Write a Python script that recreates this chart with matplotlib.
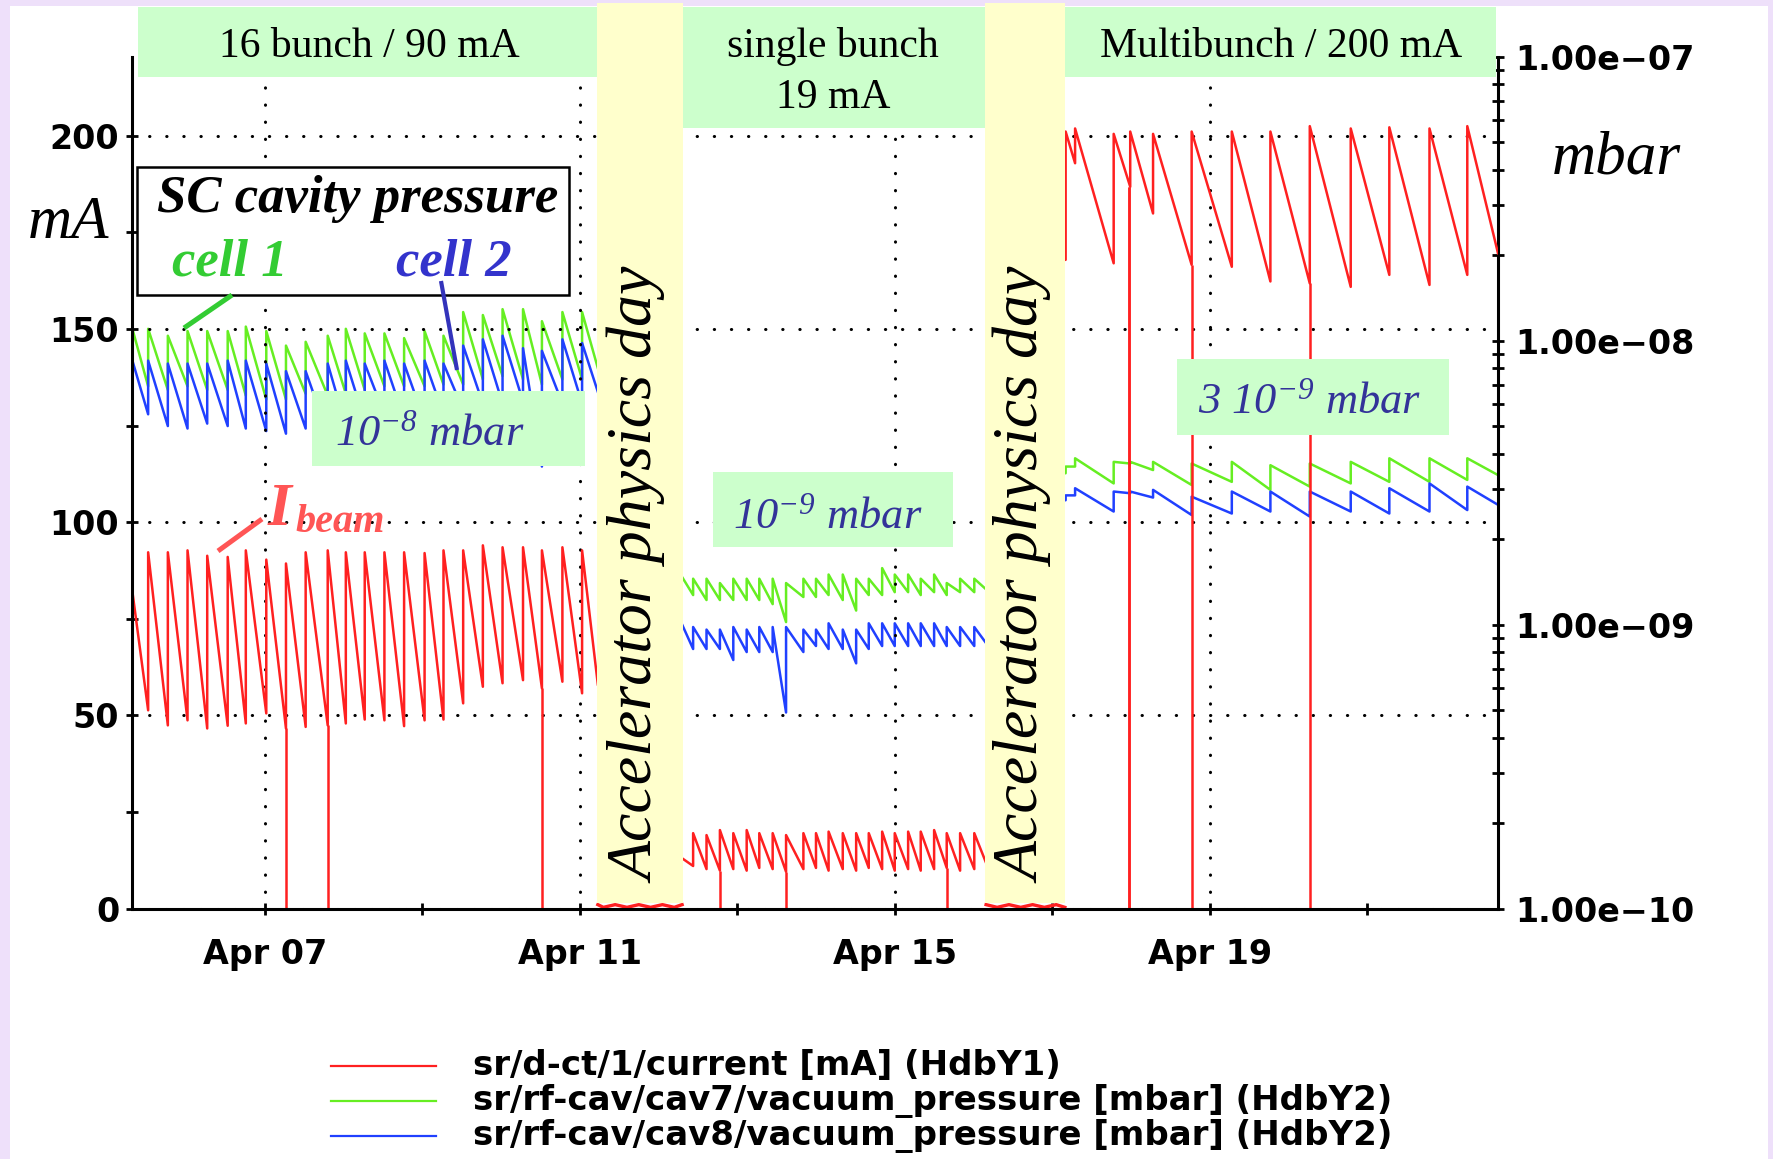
import matplotlib
matplotlib.use("Agg")
import matplotlib.pyplot as plt
from matplotlib.patches import Rectangle
from matplotlib.ticker import FixedLocator, NullFormatter

plt.rcParams['mathtext.fontset'] = 'custom'
plt.rcParams['mathtext.rm'] = 'Liberation Serif:italic'
plt.rcParams['mathtext.it'] = 'Liberation Serif:italic'

# ---- data: x in days of April, current in mA, pressure in 1e-9 mbar ----
# 16 bunch / 90 mA
seg1_span = [5.32, 11.23]
seg1_refill = [5.52, 5.77, 6.02, 6.27, 6.53, 6.76, 7.02, 7.27, 7.52, 7.80, 8.03, 8.27,
               8.52, 8.77, 9.03, 9.27, 9.52, 9.77, 10.02, 10.28, 10.52, 10.78, 11.03]
seg1_cur_peak = [92.2, 92.2, 92.7, 91.3, 91.0, 92.7, 90.3, 89.3, 92.2, 92.7, 92.2, 92.2,
                 92.2, 92.2, 92.0, 92.7, 92.7, 94.0, 93.5, 93.5, 92.7, 93.5, 92.7]
seg1_cur_low = [51.3, 47.4, 48.7, 46.6, 47.3, 47.9, 50.5, 46.6, 47.0, 47.4, 47.9, 48.9,
                48.7, 47.2, 48.7, 48.9, 53.1, 57.4, 58.3, 59.1, 57.0, 58.7, 55.7]
seg1_cur_ends = [82.0, 58.0]
seg1_cav7_peak = [11.0, 10.4, 10.8, 10.8, 10.8, 11.2, 10.8, 9.6, 9.9, 10.4, 11.0, 10.6,
                  10.6, 10.2, 10.8, 10.4, 12.6, 12.3, 12.9, 12.9, 11.7, 12.6, 12.6]
seg1_cav7_low = [6.9, 6.7, 6.9, 6.7, 6.7, 6.4, 6.2, 6.2, 6.5, 6.4, 6.5, 6.7,
                 6.9, 6.9, 6.9, 7.0, 7.0, 7.3, 7.5, 7.3, 7.0, 7.3, 7.3]
seg1_cav7_ends = [11.0, 8.0]
seg1_cav8_peak = [8.5, 8.3, 8.3, 8.3, 8.5, 8.5, 8.3, 7.8, 7.8, 8.3, 8.5, 8.3,
                  8.5, 8.3, 8.5, 8.3, 9.6, 10.1, 10.4, 9.4, 9.2, 10.1, 9.8]
seg1_cav8_low = [5.5, 5.0, 4.9, 5.1, 5.0, 4.9, 4.8, 4.7, 4.9, 4.7, 5.0, 5.2,
                 5.5, 5.3, 5.2, 5.5, 5.7, 6.0, 6.0, 6.1, 3.6, 6.0, 6.0]
seg1_cav8_ends = [8.5, 6.6]

# single bunch / 19 mA
seg2_span = [12.30, 16.16]
seg2_refill = [12.44, 12.61, 12.78, 12.95, 13.12, 13.28, 13.45, 13.62, 13.84, 14.00, 14.16,
               14.34, 14.51, 14.67, 14.84, 15.00, 15.17, 15.33, 15.50, 15.66, 15.83, 16.01]
seg2_cur_peak = [19.5, 19.0, 20.3, 19.5, 20.3, 19.5, 19.5, 19.0, 19.5, 19.5, 19.9,
                 19.5, 19.5, 19.5, 19.9, 19.5, 19.9, 19.9, 20.3, 19.5, 19.5, 19.5]
seg2_cur_low = [11.0, 10.2, 9.8, 10.2, 9.8, 10.5, 10.2, 9.5, 10.2, 10.5, 9.8,
                10.2, 9.8, 10.5, 10.2, 9.8, 10.2, 9.8, 10.2, 10.5, 9.8, 10.2]
seg2_cur_ends = [13.0, 11.8]
seg2_cav7_peak = [1.45, 1.45, 1.40, 1.45, 1.45, 1.45, 1.45, 1.40, 1.45, 1.45, 1.50,
                  1.50, 1.45, 1.45, 1.58, 1.50, 1.50, 1.45, 1.50, 1.40, 1.45, 1.45]
seg2_cav7_low = [1.27, 1.22, 1.22, 1.22, 1.22, 1.22, 1.18, 1.02, 1.25, 1.25, 1.27,
                 1.22, 1.12, 1.27, 1.27, 1.30, 1.30, 1.27, 1.30, 1.27, 1.30, 1.30]
seg2_cav7_ends = [1.47, 1.33]
seg2_cav8_peak = [0.98, 0.96, 0.96, 0.98, 0.96, 0.98, 0.98, 0.98, 0.96, 0.96, 1.01,
                  0.96, 0.96, 1.01, 1.01, 1.01, 1.01, 1.01, 1.01, 0.98, 0.98, 0.98]
seg2_cav8_low = [0.82, 0.82, 0.82, 0.75, 0.80, 0.80, 0.80, 0.49, 0.80, 0.84, 0.82,
                 0.82, 0.73, 0.82, 0.84, 0.84, 0.84, 0.84, 0.84, 0.84, 0.84, 0.84]
seg2_cav8_ends = [1.00, 0.86]

# multibunch / 200 mA
seg3_span = [17.16, 22.66]
seg3_refill = [17.17, 17.29, 17.78, 17.99, 18.28, 18.77, 19.28, 19.77, 20.27, 20.79,
               21.28, 21.79, 22.27]
seg3_cur_peak = [201.1, 201.9, 200.5, 201.1, 200.5, 201.1, 201.1, 201.1, 202.5, 201.9,
                 202.2, 201.9, 202.5]
seg3_cur_low = [167.9, 192.9, 167.0, 186.8, 179.9, 166.6, 166.1, 162.3, 161.8, 160.9,
                164.0, 161.4, 164.0]
seg3_cur_ends = [167.9, 169.6]
seg3_cav7_peak = [3.60, 3.85, 3.74, 3.74, 3.74, 3.69, 3.74, 3.64, 3.69, 3.74, 3.85, 3.85, 3.85]
seg3_cav7_low = [3.41, 3.60, 3.14, 3.69, 3.50, 3.10, 3.18, 2.98, 3.06, 3.14, 3.18, 3.18, 3.23]
seg3_cav7_ends = [3.41, 3.36]
seg3_cav8_peak = [2.85, 3.02, 2.94, 2.94, 2.98, 2.82, 2.94, 2.94, 2.94, 2.94, 3.02, 3.14, 3.06]
seg3_cav8_low = [2.74, 2.85, 2.50, 2.90, 2.80, 2.43, 2.46, 2.50, 2.40, 2.50, 2.46, 2.50, 2.53]
seg3_cav8_ends = [2.74, 2.64]

# beam losses (current drops to zero)
loss_days = [7.27, 7.80, 10.52, 12.78, 13.62, 15.66, 17.97, 17.98, 18.77, 20.27]
loss_top = [46.6, 47.4, 57.0, 9.8, 9.5, 10.5, 186.8, 186.8, 166.6, 161.8]

# accelerator physics days (current near zero)
apd1_days = [11.23, 11.30, 11.45, 11.60, 11.75, 11.90, 12.05, 12.20, 12.30]
apd1_cur = [1.0, 0.3, 1.0, 0.3, 1.0, 0.3, 1.0, 0.3, 1.0]
apd2_days = [16.16, 16.30, 16.45, 16.60, 16.75, 16.90, 17.05, 17.16]
apd2_cur = [1.0, 0.3, 1.0, 0.3, 1.0, 0.3, 1.0, 0.3]

xtick_days = [7, 11, 15, 19]
xtick_labels = ['Apr 07', 'Apr 11', 'Apr 15', 'Apr 19']
xminor_days = [9, 13, 17, 21]
ytick_ma = [0, 50, 100, 150, 200]
yminor_ma = [25, 75, 125, 175]
ptick = [1e-10, 1e-9, 1e-8, 1e-7]
ptick_labels = ['1.00e\u221210', '1.00e\u221209', '1.00e\u221208', '1.00e\u221207']

legend_labels = ['sr/d-ct/1/current [mA] (HdbY1)',
                 'sr/rf-cav/cav7/vacuum_pressure [mbar] (HdbY2)',
                 'sr/rf-cav/cav8/vacuum_pressure [mbar] (HdbY2)']

RED, GREEN, BLUE = '#FF2020', '#66EE22', '#2040FF'
BOXG, BANDY, NAVY = '#CCFFCC', '#FFFFCC', '#333399'
SERIF = 'Liberation Serif'
LW = 1.8


def sawtooth(span, refill, peak, low, ends, scale=1.0):
    xs, ys = [span[0]], [ends[0] * scale]
    for t, lo, hi in zip(refill, low, peak):
        xs += [t, t]
        ys += [lo * scale, hi * scale]
    xs.append(span[1])
    ys.append(ends[1] * scale)
    return xs, ys


W, H = 1774, 1159
fig = plt.figure(figsize=(W / 100, H / 100), dpi=100, facecolor='#EEE0FA')


def px(x0, y0, x1, y1):
    return [x0 / W, 1 - y1 / H, (x1 - x0) / W, (y1 - y0) / H]


# background panel
bg = fig.add_axes([0, 0, 1, 1], zorder=0)
bg.set_xlim(0, W)
bg.set_ylim(H, 0)
bg.axis('off')
bg.add_patch(Rectangle((10, 6), W - 16, H - 6, color='white', lw=0))

# main axes: current (left) and pressure (right, log)
axc = fig.add_axes(px(132.4, 56.6, 1498, 908.5))
axp = axc.twinx()
axc.set_zorder(2)
axp.set_zorder(1)
axc.patch.set_visible(False)
axp.patch.set_visible(False)

segs = [
    (seg1_span, seg1_refill, seg1_cur_peak, seg1_cur_low, seg1_cur_ends,
     seg1_cav7_peak, seg1_cav7_low, seg1_cav7_ends, seg1_cav8_peak, seg1_cav8_low, seg1_cav8_ends),
    (seg2_span, seg2_refill, seg2_cur_peak, seg2_cur_low, seg2_cur_ends,
     seg2_cav7_peak, seg2_cav7_low, seg2_cav7_ends, seg2_cav8_peak, seg2_cav8_low, seg2_cav8_ends),
    (seg3_span, seg3_refill, seg3_cur_peak, seg3_cur_low, seg3_cur_ends,
     seg3_cav7_peak, seg3_cav7_low, seg3_cav7_ends, seg3_cav8_peak, seg3_cav8_low, seg3_cav8_ends),
]
for sp, rf, cp, cl, ce, gp, gl, ge, bp, bl, be in segs:
    x, y = sawtooth(sp, rf, gp, gl, ge, 1e-9)
    axp.plot(x, y, color=GREEN, lw=LW)
    x, y = sawtooth(sp, rf, bp, bl, be, 1e-9)
    axp.plot(x, y, color=BLUE, lw=LW)
    x, y = sawtooth(sp, rf, cp, cl, ce)
    axc.plot(x, y, color=RED, lw=LW)

axc.vlines(loss_days, 0, loss_top, color=RED, lw=LW)
axc.plot(apd1_days, apd1_cur, color=RED, lw=2.4)
axc.plot(apd2_days, apd2_cur, color=RED, lw=2.4)

axc.set_xlim(5.32, 22.66)
axc.set_ylim(0, 220.5)
axp.set_yscale('log')
axp.set_ylim(1e-10, 1e-7)

axc.set_xticks(xtick_days)
axc.set_xticklabels(xtick_labels)
axc.set_xticks(xminor_days, minor=True)
axc.set_yticks(ytick_ma)
axc.set_yticks(yminor_ma, minor=True)
axp.set_yticks(ptick)
axp.set_yticklabels(ptick_labels)
axp.yaxis.set_minor_locator(FixedLocator([k * 10.0 ** e for e in (-10, -9, -8) for k in range(2, 10)]))
axp.yaxis.set_minor_formatter(NullFormatter())

for a in (axc, axp):
    a.tick_params(axis='both', which='both', direction='inout', length=9, width=2,
                  labelsize=24, colors='black')
axc.tick_params(axis='x', pad=17)
axc.tick_params(axis='y', pad=5)
axp.tick_params(axis='y', pad=8)
plt.setp(axc.get_xticklabels() + axc.get_yticklabels() + axp.get_yticklabels(),
         fontweight='bold')

axc.grid(True, which='major', color='black', linestyle=(0, (0.1, 5.5)), linewidth=2.2,
         dash_capstyle='round')

for s in ('top', 'right'):
    axc.spines[s].set_visible(False)
for s in ('top', 'left', 'bottom'):
    axp.spines[s].set_visible(False)
axc.spines['left'].set_linewidth(2.2)
axc.spines['bottom'].set_linewidth(2.2)
axp.spines['right'].set_linewidth(2.2)

# overlay annotations in pixel coordinates
ov = fig.add_axes([0, 0, 1, 1], zorder=3)
ov.set_xlim(0, W)
ov.set_ylim(H, 0)
ov.axis('off')


def box(x0, y0, x1, y1, color):
    ov.add_patch(Rectangle((x0, y0), x1 - x0, y1 - y0, color=color, lw=0))


box(138, 7, 597, 77, BOXG)
box(683, 7, 985.5, 127.5, BOXG)
box(1064.6, 7, 1496, 77, BOXG)
box(597, 3, 683, 903, BANDY)
box(985.5, 3, 1064.6, 903, BANDY)
box(312, 391, 585, 466, BOXG)
box(713, 472, 953, 546.5, BOXG)
box(1177, 359, 1449, 435, BOXG)

ov.text(369, 57, '16 bunch / 90 mA', ha='center', va='baseline', fontsize=30, family=SERIF)
ov.text(833, 57, 'single bunch', ha='center', va='baseline', fontsize=30, family=SERIF)
ov.text(833, 108, '19 mA', ha='center', va='baseline', fontsize=30, family=SERIF)
ov.text(1281, 57, 'Multibunch / 200 mA', ha='center', va='baseline', fontsize=30, family=SERIF)

for xc in (639, 1025):
    ov.text(xc, 576, 'Accelerator physics day', rotation=90, ha='center', va='center',
            fontsize=46, family=SERIF, style='italic')

ov.text(69, 238, 'mA', ha='center', va='baseline', fontsize=44, family=SERIF, style='italic')
ov.text(1616, 173, 'mbar', ha='center', va='baseline', fontsize=44, family=SERIF, style='italic')

# SC cavity legend box
ov.add_patch(Rectangle((137, 167), 432, 128, facecolor='white', edgecolor='black', lw=1.8))
ov.text(358, 212, 'SC cavity pressure', ha='center', va='baseline', fontsize=38,
        family=SERIF, style='italic', weight='bold')
ov.text(230, 275, 'cell 1', ha='center', va='baseline', fontsize=38, family=SERIF,
        style='italic', weight='bold', color='#33CC33')
ov.text(454, 275, 'cell 2', ha='center', va='baseline', fontsize=38, family=SERIF,
        style='italic', weight='bold', color='#3333CC')
ov.plot([232, 184], [295, 328], color='#33CC33', lw=3.6, solid_capstyle='butt')
ov.plot([441, 457], [281, 370], color='#3333BB', lw=3.0, solid_capstyle='butt')

# I_beam label
ov.text(268, 525, 'I', ha='left', va='baseline', fontsize=44, family=SERIF,
        style='italic', weight='bold', color='#FF5555')
ov.text(295, 532, 'beam', ha='left', va='baseline', fontsize=29, family=SERIF,
        style='italic', weight='bold', color='#FF5555')
ov.plot([262, 218], [519, 551], color='#FF5555', lw=3.6, solid_capstyle='butt')

# pressure level labels
ov.text(335, 445, r'$10^{-8}$ mbar', ha='left', va='baseline', fontsize=32,
        family=SERIF, style='italic', color=NAVY)
ov.text(733, 528, r'$10^{-9}$ mbar', ha='left', va='baseline', fontsize=32,
        family=SERIF, style='italic', color=NAVY)
ov.text(1198, 413, r'3 $10^{-9}$ mbar', ha='left', va='baseline', fontsize=32,
        family=SERIF, style='italic', color=NAVY)

# series legend at the bottom
for yy, col, lab in zip([1066, 1101, 1136], [RED, GREEN, BLUE], legend_labels):
    ov.plot([331, 436], [yy, yy], color=col, lw=1.6)
    ov.text(473, yy, lab, ha='left', va='center', fontsize=24.5, weight='bold',
            family='DejaVu Sans')

fig.savefig('out.png', dpi=100, facecolor=fig.get_facecolor())
